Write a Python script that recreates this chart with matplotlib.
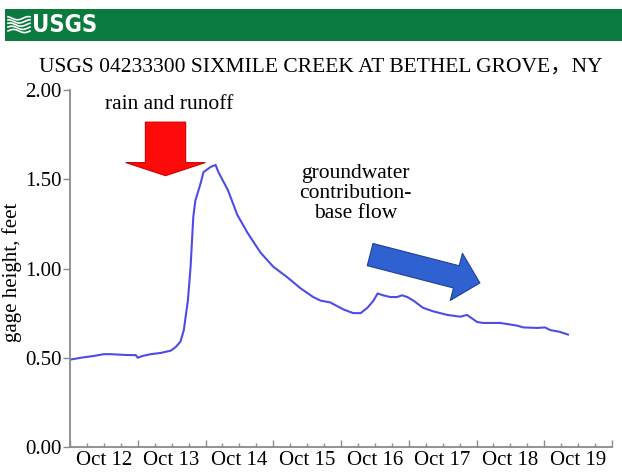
import matplotlib
matplotlib.use("Agg")
import matplotlib.pyplot as plt
from matplotlib.patches import FancyArrowPatch
import numpy as np

# gage height readings, days since Oct 12 00:00
days = [0.01, 0.16, 0.35, 0.50, 0.60, 0.85, 0.97, 1.00, 1.07, 1.19, 1.34, 1.49,
        1.56, 1.63, 1.68, 1.74, 1.78, 1.82, 1.85, 1.93, 1.97, 2.08, 2.15, 2.19,
        2.33, 2.47, 2.62, 2.81, 3.00, 3.21, 3.40, 3.59, 3.70, 3.84, 4.04, 4.18,
        4.29, 4.39, 4.48, 4.54, 4.62, 4.73, 4.83, 4.90, 4.98, 5.07, 5.21, 5.36,
        5.57, 5.76, 5.86, 6.01, 6.10, 6.35, 6.60, 6.69, 6.90, 7.01, 7.09, 7.23,
        7.35]
gage_ft = [0.49, 0.50, 0.51, 0.52, 0.52, 0.515, 0.515, 0.50, 0.51, 0.52, 0.527, 0.54,
           0.56, 0.59, 0.655, 0.82, 1.01, 1.29, 1.38, 1.48, 1.54, 1.57, 1.58, 1.54,
           1.44, 1.30, 1.20, 1.09, 1.01, 0.95, 0.89, 0.84, 0.82, 0.81, 0.77, 0.75,
           0.75, 0.78, 0.82, 0.86, 0.85, 0.84, 0.84, 0.85, 0.84, 0.82, 0.78, 0.76,
           0.74, 0.73, 0.74, 0.70, 0.695, 0.695, 0.68, 0.67, 0.667, 0.67, 0.655, 0.645,
           0.63]

day_labels = ["Oct 12", "Oct 13", "Oct 14", "Oct 15", "Oct 16", "Oct 17", "Oct 18", "Oct 19"]
y_ticks = [0.0, 0.5, 1.0, 1.5, 2.0]

title = "USGS 04233300 SIXMILE CREEK AT BETHEL GROVE\uff0cNY"
serif = ["Liberation Serif", "Noto Sans CJK SC", "DejaVu Serif"]
axis_gray = "#8a8a8a"

fig = plt.figure(figsize=(6.22, 4.76), dpi=100)

# green banner with logo
banner = fig.add_axes([5 / 622, 1 - 41 / 476, 617 / 622, 32 / 476])
banner.set_facecolor("#0a7a3e")
banner.set_xlim(0, 617)
banner.set_ylim(0, 32)
banner.set_xticks([])
banner.set_yticks([])
for s in banner.spines.values():
    s.set_visible(False)
t = np.linspace(3, 25, 30)
for k in range(5):
    off = 10 + k * 3.2
    banner.plot(t, off + 1.6 * np.sin((t - 3) / 22 * 2 * np.pi + k * 0.5), color="white", lw=1.2)
banner.text(27, 16, "USGS", color="white", fontsize=17, weight="bold",
            family="DejaVu Sans", stretch="condensed", va="center", ha="left")

fig.text(0.516, 1 - 67 / 476, title, family=serif, fontsize=15.5, ha="center", va="center")

ax = fig.add_axes([70 / 622, 29 / 476, 542 / 622, 357 / 476])
ax.plot(days, gage_ft, color="#4c4ce6", lw=1.5)

ax.set_xlim(0, 8)
ax.set_ylim(0, 2.0)
for s in ["top", "right"]:
    ax.spines[s].set_visible(False)
for s in ["left", "bottom"]:
    ax.spines[s].set_color(axis_gray)
    ax.spines[s].set_linewidth(1.3)

# midnight ticks long, 6-hour ticks short, labels at noon
ax.set_xticks(range(0, 9), labels=[""] * 9)
quarters = [q / 4 for q in range(33) if q % 4 != 0]
q_labels = [day_labels[int(q)] if abs(q % 1 - 0.5) < 1e-9 else "" for q in quarters]
ax.set_xticks(quarters, labels=q_labels, minor=True)
ax.tick_params(axis="x", which="major", direction="in", length=5, width=1, color=axis_gray)
ax.tick_params(axis="x", which="minor", direction="in", length=3, width=1, color=axis_gray,
               pad=3, labelsize=15)

ax.set_yticks(y_ticks, labels=[f"{v:.2f}" for v in y_ticks])
ax.tick_params(axis="y", direction="out", length=5, width=1, color=axis_gray, labelsize=15, pad=1)
for lab in ax.get_xticklabels(minor=True) + ax.get_yticklabels():
    lab.set_family(serif)

ax.set_ylabel("gage height, feet", family=serif, fontsize=15)
ax.yaxis.set_label_coords(-0.088, 0.49)

# annotations
ax.text(1.46, 1.92, "rain and runoff", family=serif, fontsize=15.5, ha="center", va="center")
ax.add_patch(FancyArrowPatch((1.41, 1.82), (1.41, 1.52),
                             arrowstyle="simple,head_length=9.4,head_width=57,tail_width=29",
                             mutation_scale=1, shrinkA=0, shrinkB=0,
                             fc="#ff0a0a", ec="#d00000", lw=0.8))
ax.text(4.21, 1.42, "groundwater\ncontribution-\nbase flow", family=serif, fontsize=15.5,
        ha="center", va="center", linespacing=1.1)
ax.add_patch(FancyArrowPatch((4.43, 1.078), (6.05, 0.919),
                             arrowstyle="simple,head_length=17.5,head_width=35,tail_width=16.5",
                             mutation_scale=1, shrinkA=0, shrinkB=0,
                             fc="#2f62d0", ec="#1f3f9a", lw=0.8))

fig.savefig("out.png", dpi=100)
